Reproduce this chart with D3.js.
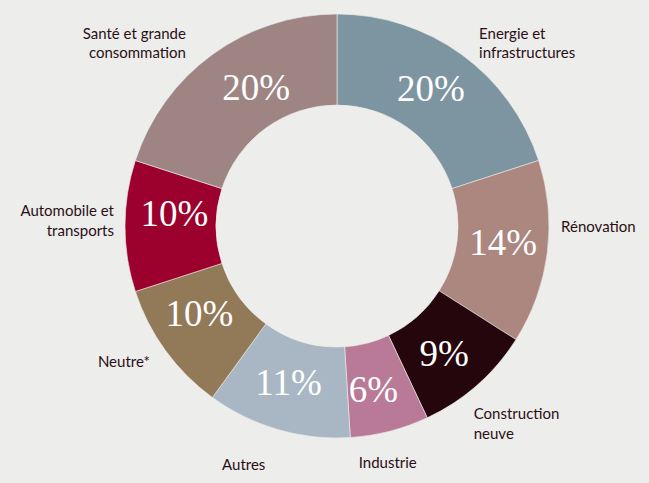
<!DOCTYPE html>
<html>
<head>
<meta charset="utf-8">
<script src="https://cdn.jsdelivr.net/npm/d3@7"></script>
<style>
  html, body { margin: 0; padding: 0; background: #ededeb; }
  svg { display: block; }
  .pct { font-family: "Liberation Serif", "Times New Roman", "DejaVu Serif", serif; font-size: 37px; }
  .cat { font-family: Lato, "Noto Sans", sans-serif; font-size: 15px; }
</style>
</head>
<body>
<div id="chart"></div>
<script>
// data, clockwise from 12 o'clock
const categories = [
  ["Energie et", "infrastructures"],
  ["Rénovation"],
  ["Construction", "neuve"],
  ["Industrie"],
  ["Autres"],
  ["Neutre*"],
  ["Automobile et", "transports"],
  ["Santé et grande", "consommation"]
];
const shares = [20, 14, 9, 6, 11, 10, 10, 20];
const colors = ["#7c95a1", "#ab877f", "#26060d", "#b97a97", "#a8b7c3", "#927958", "#9c002c", "#9e8584"];

// label placement: anchor + small nudge from the mid-angle point
const labelAnchor = ["start", "start", "start", "start", "start", "end", "end", "end"];
const labelNudge = [[1, 7], [-14, -24], [-22, 13], [-38, 10], [-48, 14], [7, 0], [17, -10], [-10, 7]];
const pctNudge = [[-4, -3], [1, -4], [-3, 3], [-5, 3], [-2, -3], [-3, -10], [4, -12], [17, -4]];

const width = 649, height = 483;
const cx = 337, cy = 226;
const outerR = 212, innerR = 121, labelR = 240;

const svg = d3.select("#chart").append("svg")
  .attr("width", width)
  .attr("height", height);

svg.append("rect").attr("width", width).attr("height", height).attr("fill", "#ededeb");

const g = svg.append("g").attr("transform", `translate(${cx},${cy})`);

const pie = d3.pie().sort(null).value(d => d);
const arcs = pie(shares);

const arc = d3.arc().innerRadius(innerR).outerRadius(outerR);

g.selectAll("path")
  .data(arcs)
  .enter()
  .append("path")
  .attr("d", arc)
  .attr("fill", (d, i) => colors[i])
  .attr("stroke", "#ededeb")
  .attr("stroke-width", 0.6);

// percentages inside the ring
g.selectAll("text.pct")
  .data(arcs)
  .enter()
  .append("text")
  .attr("class", "pct")
  .attr("transform", (d, i) => {
    const c = arc.centroid(d);
    return `translate(${c[0] + pctNudge[i][0]},${c[1] + pctNudge[i][1]})`;
  })
  .attr("text-anchor", "middle")
  .attr("dy", "0.33em")
  .attr("fill", "#ffffff")
  .text(d => d.data + "%");

// category labels outside
arcs.forEach((d, i) => {
  const a = (d.startAngle + d.endAngle) / 2;
  const x = labelR * Math.sin(a) + labelNudge[i][0];
  const y = -labelR * Math.cos(a) + labelNudge[i][1];
  const t = g.append("text")
    .attr("class", "cat")
    .attr("x", x)
    .attr("y", y)
    .attr("text-anchor", labelAnchor[i])
    .attr("fill", "#2b0f16");
  categories[i].forEach((line, j) => {
    t.append("tspan")
      .attr("x", x)
      .attr("dy", j === 0 ? 0 : 19.5)
      .text(line);
  });
});
</script>
</body>
</html>
